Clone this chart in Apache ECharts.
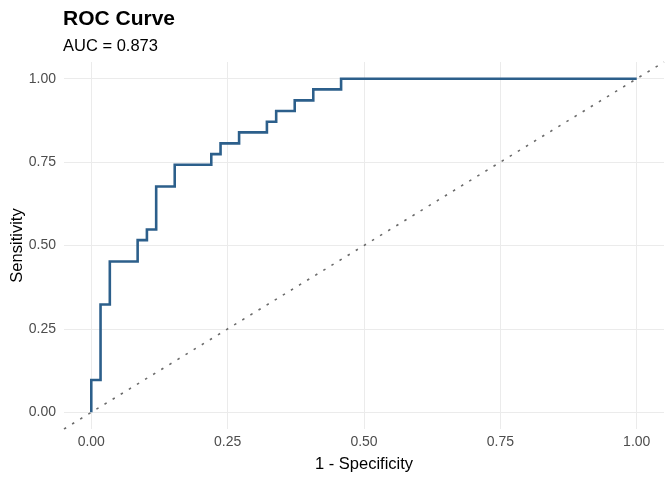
<!DOCTYPE html>
<html>
<head>
<meta charset="utf-8">
<script src="https://cdn.jsdelivr.net/npm/echarts@6/dist/echarts.min.js"></script>
<style>
  html, body { margin: 0; padding: 0; background: #fff; }
  #roc { width: 672px; height: 480px; }
</style>
</head>
<body>
<div id="roc"></div>
<script>
// ROC curve vertices (1 - specificity, sensitivity)
var fpr = [0, 0, 0.017, 0.017, 0.034, 0.034, 0.085, 0.085, 0.102, 0.102, 0.119, 0.119,
  0.153, 0.153, 0.220, 0.220, 0.237, 0.237, 0.271, 0.271, 0.322, 0.322, 0.339, 0.339,
  0.373, 0.373, 0.407, 0.407, 0.458, 0.458, 1];
var tpr = [0, 0.097, 0.097, 0.323, 0.323, 0.452, 0.452, 0.516, 0.516, 0.548, 0.548, 0.677,
  0.677, 0.742, 0.742, 0.774, 0.774, 0.806, 0.806, 0.839, 0.839, 0.871, 0.871, 0.903,
  0.903, 0.935, 0.935, 0.968, 0.968, 1, 1];
// reference diagonal, runs across the whole panel
var diagX = [-0.05, 1.05];
var diagY = [-0.05, 1.05];
var tickValues = [0, 0.25, 0.5, 0.75, 1];
var tickLabels = ['0.00', '0.25', '0.50', '0.75', '1.00'];

(function () {
    var myChart = echarts.init(document.getElementById('roc'));
    var font = 'Liberation Sans, Arial, sans-serif';

    var rocData = [];
    for (var i = 0; i < fpr.length; i++) {
        rocData.push([fpr[i], tpr[i]]);
    }
    var diagData = [];
    for (var j = 0; j < diagX.length; j++) {
        diagData.push([diagX[j], diagY[j]]);
    }

    var fmt = function (v) {
        for (var k = 0; k < tickValues.length; k++) {
            if (Math.abs(v - tickValues[k]) < 1e-6) return tickLabels[k];
        }
        return '';
    };

    var makeAxis = function (extra) {
        var ax = {
            type: 'value',
            min: -0.05,
            max: 1.05,
            axisLine: { show: false },
            axisTick: { show: false, customValues: tickValues },
            splitLine: { show: true, lineStyle: { color: '#ebebeb', width: 1 } },
            axisLabel: {
                color: '#4d4d4d',
                fontSize: 14,
                fontFamily: font,
                customValues: tickValues,
                formatter: fmt
            },
            nameLocation: 'middle',
            nameMoveOverlap: false,
            nameTextStyle: { color: '#000', fontSize: 16.5, fontFamily: font }
        };
        for (var key in extra) {
            if (key === 'axisLabel') {
                for (var k2 in extra.axisLabel) ax.axisLabel[k2] = extra.axisLabel[k2];
            } else {
                ax[key] = extra[key];
            }
        }
        return ax;
    };

    var option = {
        backgroundColor: '#fff',
        animation: false,
        title: [{
            text: 'ROC Curve',
            left: 63,
            top: 9,
            padding: 0,
            textStyle: { fontSize: 21, fontWeight: 'bold', color: '#000', fontFamily: font }
        }, {
            text: 'AUC = 0.873',
            left: 63,
            top: 38,
            padding: 0,
            textStyle: { fontSize: 16.5, fontWeight: 'normal', color: '#000', fontFamily: font }
        }],
        grid: { left: 64, right: 8, top: 62, bottom: 51, containLabel: false, outerBoundsMode: 'none' },
        xAxis: makeAxis({
            name: '1 - Specificity',
            nameGap: 27,
            axisLabel: { margin: 6 }
        }),
        yAxis: makeAxis({
            name: 'Sensitivity',
            nameGap: 38,
            nameRotate: 90,
            axisLabel: { margin: 8 }
        }),
        series: [
            {
                name: 'chance',
                type: 'line',
                data: diagData,
                showSymbol: false,
                lineStyle: { color: '#6b6b6b', width: 1.6, type: [2.5, 7] },
                z: 2
            },
            {
                name: 'ROC',
                type: 'line',
                data: rocData,
                showSymbol: false,
                lineStyle: { color: '#2c5f8b', width: 2.6, join: 'miter' },
                z: 3
            }
        ]
    };

    myChart.setOption(option);
    window.addEventListener('resize', function () {
        myChart.resize();
    });
})();
</script>
</body>
</html>
